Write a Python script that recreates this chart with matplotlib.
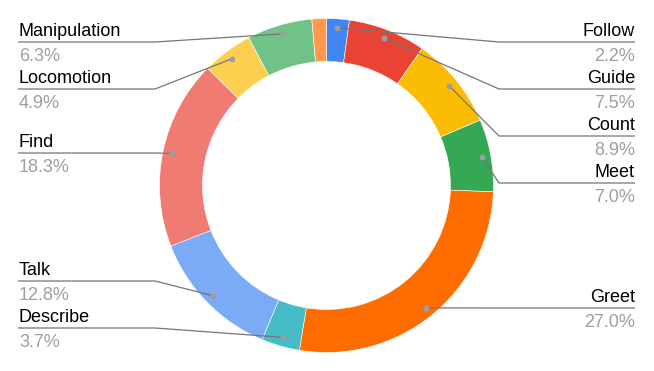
import matplotlib
matplotlib.use("Agg")
import matplotlib.pyplot as plt
import numpy as np

categories = ["Follow", "Guide", "Count", "Meet", "Greet", "Describe", "Talk",
              "Find", "Locomotion", "Manipulation", "Other"]
values = [2.2, 7.5, 8.9, 7.0, 27.0, 3.7, 12.8, 18.3, 4.9, 6.3, 1.4]
colors = ["#4285F4", "#EA4335", "#FBBC04", "#34A853", "#FF6D01", "#46BDC6",
          "#7BAAF7", "#F07B72", "#FCD04F", "#71C287", "#FF994D"]
pct_labels = ["2.2%", "7.5%", "8.9%", "7.0%", "27.0%", "3.7%", "12.8%",
              "18.3%", "4.9%", "6.3%", None]

W, H = 654, 371
fig = plt.figure(figsize=(W / 100, H / 100), dpi=100)
ax = fig.add_axes([0, 0, 1, 1])

cx, cy, R = 326.5, 185.5, 167
ring = 43

ax.pie(values, colors=colors, startangle=270, counterclock=True,
       center=(cx, cy), radius=R,
       wedgeprops=dict(width=ring, edgecolor="white", linewidth=0.4))
ax.set_xlim(0, W)
ax.set_ylim(H, 0)
ax.set_aspect("equal")
ax.axis("off")

# label layout (pixel positions of the leader's horizontal segment)
layout = {
    "Follow": ("right", 42), "Guide": ("right", 89), "Count": ("right", 136),
    "Meet": ("right", 183), "Greet": ("right", 308),
    "Manipulation": ("left", 42), "Locomotion": ("left", 89),
    "Find": ("left", 153), "Talk": ("left", 281), "Describe": ("left", 328),
}

total = sum(values)
cum = np.cumsum([0] + values[:-1])
r_dot = 158
font = ["Liberation Sans", "DejaVu Sans"]
fs = 13
for i, name in enumerate(categories):
    if name not in layout:
        continue
    side, ly = layout[name]
    mid = (cum[i] + values[i] / 2) / total * 2 * np.pi
    dx = cx + r_dot * np.sin(mid)
    dy = cy - r_dot * np.cos(mid)
    if side == "left":
        xs = [dx, 155, 18]
        tx, ha = 19, "left"
    else:
        xs = [dx, 499, 635]
        tx, ha = 635, "right"
    ax.plot(xs, [dy, ly, ly], color="#757575", lw=0.9, solid_capstyle="butt", zorder=3)
    ax.plot([dx], [dy], "o", color="#9e9e9e", ms=4.2, mec="none", zorder=4)
    ax.text(tx, ly - 6, name, ha=ha, va="baseline", fontsize=fs,
            family=font, color="#000000")
    ax.text(tx, ly + 19, pct_labels[i], ha=ha, va="baseline", fontsize=fs,
            family=font, color="#9e9e9e")

fig.savefig("out.png", dpi=100)
